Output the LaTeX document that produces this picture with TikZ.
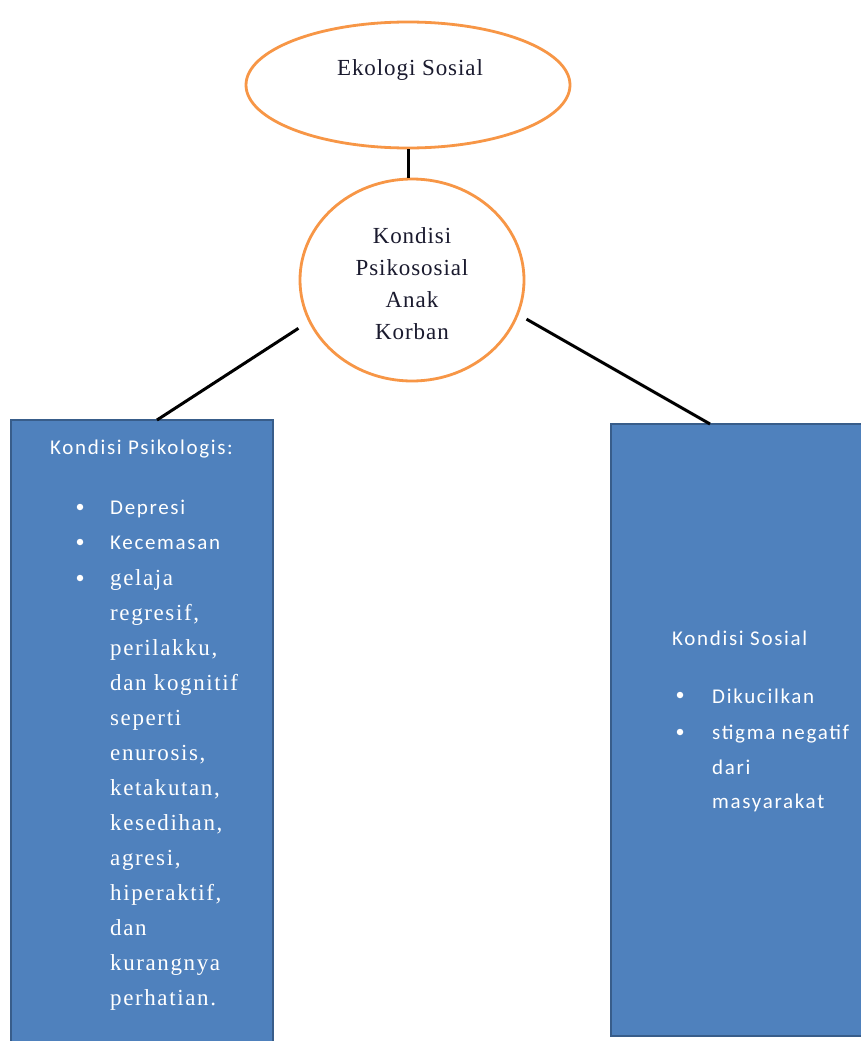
\documentclass[tikz,border=0pt]{standalone}
\usepackage{fontspec}
\setmainfont{Liberation Serif}
\newfontfamily\calfont[LetterSpace=8]{Carlito}
\newfontfamily\tmsfont[LetterSpace=7]{Liberation Serif}
\newfontfamily\ovfont[LetterSpace=4]{Liberation Serif}
\usetikzlibrary{shapes.geometric,calc}
\definecolor{orng}{HTML}{F79646}
\definecolor{boxblue}{HTML}{4F81BD}
\definecolor{boxedge}{HTML}{385D8A}
\definecolor{ovtext}{HTML}{1A1A2E}
\tikzset{
  oval/.style={ellipse, draw=orng, line width=2.8pt, fill=white, inner sep=0pt},
  panel/.style={draw=boxedge, line width=1.6pt, fill=boxblue},
  conn/.style={draw=black, line width=3pt},
  sanstxt/.style={text=white, anchor=base west, inner sep=0pt, font=\calfont\fontsize{21}{25}\selectfont},
  seriftxt/.style={text=white, anchor=base west, inner sep=0pt, font=\tmsfont\fontsize{23}{26}\selectfont},
  bul/.style={circle, fill=white, inner sep=0pt, minimum size=6.5pt},
  ovaltxt/.style={font=\ovfont\fontsize{23}{32}\selectfont, align=center, text=ovtext}
}
\begin{document}
\begin{tikzpicture}[x=1pt,y=-1pt]
\path[use as bounding box] (0,0) rectangle (861,1041);
\clip (0,0) rectangle (861,1041);
\fill[white] (0,0) rectangle (861,1041);

% top ellipse
\node[oval, minimum width=324pt, minimum height=126pt] (eko) at (408,85) {};
\node[ovaltxt] (ekotxt) at (410,70) {Ekologi Sosial};

% circle
\node[oval, minimum width=224pt, minimum height=202pt] (kon) at (412,280) {};
\node[ovaltxt] (kontxt) at (412,284) {Kondisi\\Psikososial\\Anak\\Korban};

% boxes
\node[panel, rectangle, minimum width=262pt, minimum height=640pt, anchor=north west] (lbox) at (10,419) {};
\node[panel, rectangle, minimum width=270pt, minimum height=612pt, anchor=north west] (rbox) at (610,423) {};

% connectors
\coordinate (lbt) at (157,420);
\coordinate (rbt) at (710,424);
\draw[conn] (eko.south) -- (eko.south |- kon.north);
\draw[conn, shorten <=12pt] (kon.202) -- (lbt);
\draw[conn, shorten <=9pt] (kon.342.3) -- (rbt);

% left box text
\node[sanstxt] (lh) at (50,454) {Kondisi Psikologis:};
\node[bul] (lb1) at (80,507) {};
\node[bul] (lb2) at (80,542) {};
\node[bul] (lb3) at (80,578) {};
\node[sanstxt] (l1) at (110,514) {Depresi};
\node[sanstxt] (l2) at (110,549) {Kecemasan};
\node[seriftxt] (l3) at (110,585) {gelaja};
\node[seriftxt] (l4) at (110,620) {regresif,};
\node[seriftxt] (l5) at (110,655) {perilakku,};
\node[seriftxt] (l6) at (110,690) {dan kognitif};
\node[seriftxt] (l7) at (110,725) {seperti};
\node[seriftxt] (l8) at (110,760) {enurosis,};
\node[seriftxt] (l9) at (110,795) {ketakutan,};
\node[seriftxt] (l10) at (110,830) {kesedihan,};
\node[seriftxt] (l11) at (110,865) {agresi,};
\node[seriftxt] (l12) at (110,900) {hiperaktif,};
\node[seriftxt] (l13) at (110,935) {dan};
\node[seriftxt] (l14) at (110,970) {kurangnya};
\node[seriftxt] (l15) at (110,1005) {perhatian.};

% right box text
\node[sanstxt] (rh) at (672,645) {Kondisi Sosial};
\node[bul] (rb1) at (680,695) {};
\node[bul] (rb2) at (680,732) {};
\node[sanstxt] (r1) at (712,703) {Dikucilkan};
\node[sanstxt] (r2) at (712,739) {stigma negatif};
\node[sanstxt] (r3) at (712,774) {dari};
\node[sanstxt] (r4) at (712,808) {masyarakat};
\end{tikzpicture}
\end{document}
